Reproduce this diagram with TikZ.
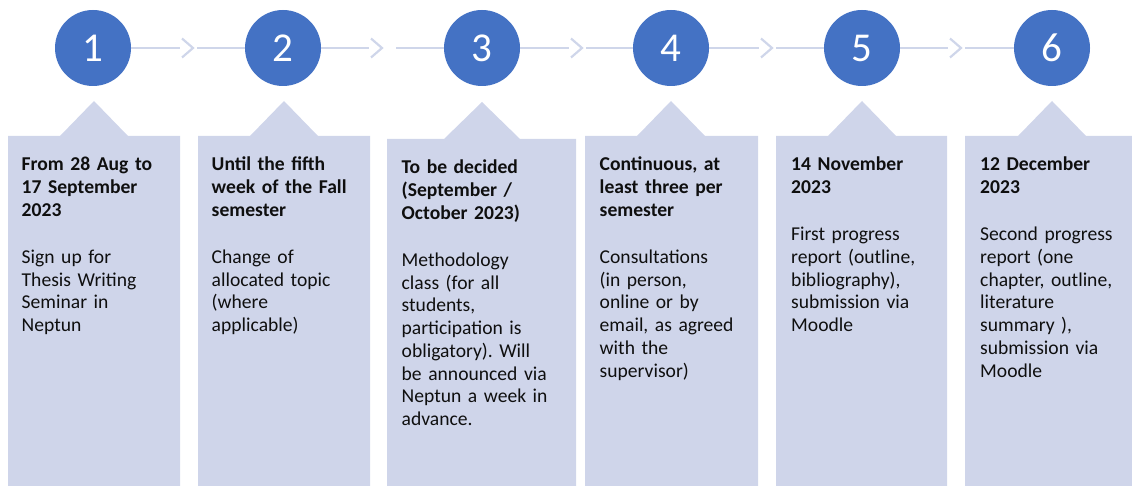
\documentclass[tikz,border=0pt]{standalone}
\usepackage{fontspec}
\setmainfont{Carlito}
\usetikzlibrary{calc}
\frenchspacing
\definecolor{circ}{HTML}{4472C4}
\definecolor{boxc}{HTML}{CFD5EA}
\definecolor{linec}{HTML}{CFD6EA}
\definecolor{txtc}{HTML}{0F0F0F}
\begin{document}
\begin{tikzpicture}[x=1pt,y=-1pt,
 num/.style={circle,fill=circ,minimum size=76pt,inner sep=0pt,text=white,font=\fontsize{41}{41}\selectfont},
 conn/.style={draw=linec,line width=2.6pt},
 chev/.style={draw=linec,line width=2.2pt,line join=miter},
 panel/.style={fill=boxc},
 txt/.style={anchor=base west,align=left,inner sep=0pt,text width=180pt,text=txtc,font=\fontsize{19.6}{22.77}\selectfont\frenchspacing}]
\useasboundingbox (0,0) rectangle (1132,486);
% panels
\fill[panel] (8,486) -- (8,136) -- (60,136) -- (94,101) -- (128,136) -- (180,136) -- (180,486) -- cycle;
\fill[panel] (198,486) -- (198,136) -- (250,136) -- (284,101) -- (318,136) -- (370,136) -- (370,486) -- cycle;
\fill[panel] (387,486) -- (387,139) -- (444,139) -- (482,102) -- (520,139) -- (576,139) -- (576,486) -- cycle;
\fill[panel] (585,486) -- (585,136) -- (637,136) -- (671,101) -- (705,136) -- (758,136) -- (758,486) -- cycle;
\fill[panel] (776,486) -- (776,136) -- (828,136) -- (862,101) -- (896,136) -- (947,136) -- (947,486) -- cycle;
\fill[panel] (965,486) -- (965,136) -- (1018,136) -- (1052,101) -- (1086,136) -- (1132,136) -- (1132,486) -- cycle;
% circles
\node[num] (c1) at (93,48) {1};
\node[num] (c2) at (283,48) {2};
\node[num] (c3) at (482,48) {3};
\node[num] (c4) at (671,48) {4};
\node[num] (c5) at (862,48) {5};
\node[num] (c6) at (1052,48) {6};
% connector coordinates
\coordinate (a1) at (180,48); \coordinate (k1) at (193,48); \coordinate (b1) at (197,48);
\coordinate (a2) at (369,48); \coordinate (k2) at (382,48); \coordinate (b2) at (396,48);
\coordinate (a3) at (569,48); \coordinate (k3) at (582,48); \coordinate (b3) at (586,48);
\coordinate (a4) at (759,48); \coordinate (k4) at (772,48); \coordinate (b4) at (776,48);
\coordinate (a5) at (948,48); \coordinate (k5) at (961,48); \coordinate (b5) at (965,48);
\foreach \i/\j in {1/2,2/3,3/4,4/5,5/6}{
  \draw[conn] (c\i.east) -- (a\i);
  \draw[chev] ($(k\i)+(-11,-9.5)$) -- (k\i) -- ($(k\i)+(-11,9.5)$);
  \draw[conn] (b\i) -- (c\j.west);
}
% texts
\node[txt] (t1) at (21.5,170.5) {\textbf{From 28 Aug to\\17 September\\2023}\\[24.5pt]Sign up for\\Thesis Writing\\Seminar in\\Neptun};
\node[txt] (t2) at (211.5,170.5) {\textbf{Until the fifth\\week of the Fall\\semester}\\[24.5pt]Change of\\allocated topic\\(where\\applicable)};
\node[txt] (t3) at (401.5,173.5) {\textbf{To be decided\\(September /\\October 2023)}\\[24.5pt]Methodology\\class (for all\\students,\\participation is\\obligatory). Will\\be announced via\\Neptun a week in\\advance.};
\node[txt] (t4) at (599.5,170.5) {\textbf{Continuous, at\\least three per\\semester}\\[24.5pt]Consultations\\(in person,\\online or by\\email, as agreed\\with the\\supervisor)};
\node[txt] (t5) at (791,170.5) {\textbf{14 November\\2023}\\[24.5pt]First progress\\report (outline,\\bibliography),\\submission via\\Moodle};
\node[txt] (t6) at (980,170.5) {\textbf{12 December\\2023}\\[24.5pt]Second progress\\report (one\\chapter, outline,\\literature\\summary ),\\submission via\\Moodle};
\end{tikzpicture}
\end{document}
